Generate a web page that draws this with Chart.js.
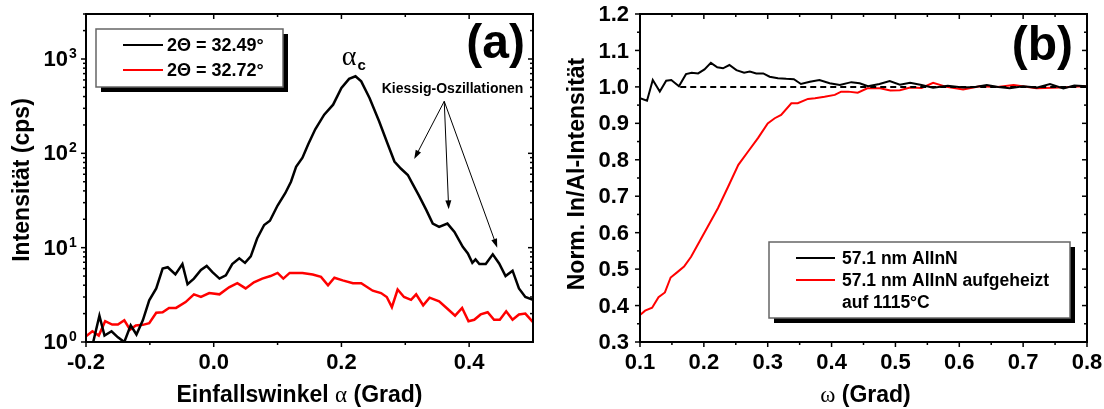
<!DOCTYPE html>
<html>
<head>
<meta charset="utf-8">
<script src="https://cdn.jsdelivr.net/npm/chart.js@4.4.1/dist/chart.umd.min.js"></script>
<style>
  body { margin: 0; background: #fff; }
  #wrap { position: relative; width: 1104px; height: 409px; }
  canvas { position: absolute; top: 0; }
</style>
</head>
<body>
<div id="wrap">
  <canvas id="chartA" width="552" height="409" style="left:0"></canvas>
  <canvas id="chartB" width="552" height="409" style="left:552px"></canvas>
</div>
<script>
const SCHRIFT = "'Liberation Sans', Arial, Helvetica, sans-serif";
const SERIF = "'Liberation Serif', 'Times New Roman', serif";

// (a) Intensitaet gegen Einfallswinkel
const winkelSchwarz = [-0.195,-0.189,-0.179,-0.171,-0.16,-0.15,-0.14,-0.13,-0.121,-0.111,-0.101,-0.09,-0.08,-0.072,-0.06,-0.049,-0.041,-0.031,-0.02,-0.011,-0.002,0.009,0.019,0.029,0.04,0.049,0.058,0.068,0.079,0.088,0.1,0.112,0.121,0.129,0.139,0.148,0.159,0.173,0.187,0.2,0.212,0.222,0.231,0.244,0.259,0.272,0.283,0.293,0.304,0.311,0.321,0.333,0.343,0.353,0.366,0.377,0.39,0.398,0.405,0.41,0.416,0.426,0.437,0.447,0.457,0.468,0.478,0.488,0.5];
const intensSchwarz = [0.8,0.98,1.9,1.17,1.3,1.12,1.0,1.5,1.2,1.7,2.77,3.7,6.0,6.2,5.2,6.7,4.1,4.7,5.8,6.4,5.5,4.7,5.1,6.7,7.7,6.9,8.1,12.5,17.4,19.3,28,37.8,50,72,90,125,180,257,328,493,616,656,580,386,219,128,82,69,59,48,36,25,18,16.6,18,14.7,10.2,8.7,6.9,7.5,6.7,6.7,8.5,6.8,5.0,5.7,3.7,3.0,2.8];
const winkelRot = [-0.2,-0.19,-0.18,-0.17,-0.159,-0.15,-0.14,-0.131,-0.122,-0.111,-0.101,-0.09,-0.08,-0.07,-0.059,-0.044,-0.031,-0.02,-0.007,0.009,0.024,0.037,0.05,0.063,0.076,0.089,0.1,0.109,0.119,0.139,0.155,0.168,0.179,0.189,0.202,0.218,0.231,0.249,0.262,0.271,0.279,0.288,0.298,0.309,0.317,0.328,0.338,0.353,0.366,0.378,0.389,0.399,0.408,0.418,0.429,0.439,0.448,0.458,0.468,0.478,0.488,0.5];
const intensRot = [1.15,1.3,1.17,1.66,1.53,1.53,1.7,1.35,1.5,1.52,1.58,2.04,2.07,2.3,2.3,2.65,3.2,3.0,3.3,3.2,3.8,4.2,3.7,4.3,4.7,5.0,5.4,4.7,5.4,5.4,5.2,4.9,4.0,4.8,4.5,4.2,4.2,3.5,3.3,3.0,2.34,3.6,3.0,2.8,3.2,2.45,2.95,2.7,2.25,1.9,2.3,1.66,1.72,1.96,2.07,1.72,1.72,2.12,1.72,1.96,2.0,1.62];
const legendeA = ['2Θ = 32.49°', '2Θ = 32.72°'];
const dekadenA = [1, 10, 100, 1000];
const xLabelsA = [-0.2, 0, 0.2, 0.4];

// (b) normierte In/Al-Intensitaet gegen omega
const omegaSchwarz = [0.1,0.111,0.12,0.131,0.141,0.149,0.161,0.172,0.181,0.191,0.201,0.211,0.221,0.23,0.24,0.251,0.263,0.272,0.282,0.293,0.303,0.316,0.329,0.341,0.352,0.366,0.381,0.397,0.413,0.431,0.444,0.457,0.475,0.491,0.507,0.523,0.541,0.559,0.582,0.606,0.625,0.643,0.661,0.679,0.7,0.721,0.742,0.763,0.78,0.8];
const normSchwarz = [0.969,0.962,1.019,0.987,1.017,1.019,1.002,1.035,1.039,1.037,1.048,1.066,1.054,1.051,1.06,1.046,1.039,1.042,1.037,1.037,1.028,1.024,1.022,1.021,1.008,1.014,1.019,1.01,1.005,1.013,1.01,1.002,1.008,1.016,1.006,1.011,1.005,0.998,1.003,0.998,1.0,1.005,1.0,0.996,1.002,0.998,1.008,0.996,1.004,1.002];
const omegaRot = [0.1,0.108,0.119,0.129,0.139,0.148,0.158,0.169,0.18,0.193,0.206,0.222,0.238,0.254,0.269,0.285,0.3,0.311,0.321,0.337,0.347,0.363,0.374,0.389,0.405,0.415,0.426,0.441,0.456,0.476,0.492,0.507,0.523,0.541,0.559,0.58,0.606,0.632,0.66,0.685,0.721,0.758,0.794,0.8];
const normRot = [0.374,0.386,0.394,0.423,0.436,0.477,0.491,0.507,0.534,0.575,0.616,0.667,0.726,0.786,0.822,0.86,0.9,0.914,0.923,0.955,0.955,0.967,0.969,0.973,0.978,0.987,0.987,0.984,0.996,0.996,0.99,0.991,0.998,0.997,1.011,1.0,0.993,1.002,1.0,1.005,0.996,0.998,1.002,1.001];
const legendeB = ['57.1 nm AlInN', '57.1 nm AlInN aufgeheizt', 'auf 1115°C'];
const linieEins = { von: 0.163, bis: 0.8, wert: 1.0 };

// Beschriftungen in Datenkoordinaten (a)
const alphaC = { x: 0.2125, y: 870 };
const kiessigText = { x: 0.374, y: 440 };
const kiessigStart = { x: 0.361, y: 356 };
const kiessigZiele = [{ x: 0.314, y: 87 }, { x: 0.368, y: 25.5 }, { x: 0.444, y: 10 }];

function punkte(xs, ys) {
  return xs.map((x, i) => ({ x: x, y: ys[i] }));
}

function bereich(a, b, s) {
  let r = [];
  for (let v = a; v <= b + 1e-9; v += s) r.push(Math.round(v * 1000) / 1000);
  return r;
}

function strich(ctx, x1, y1, x2, y2, w) {
  ctx.lineWidth = w;
  ctx.beginPath();
  ctx.moveTo(x1, y1);
  ctx.lineTo(x2, y2);
  ctx.stroke();
}

function mischText(ctx, teile, cx, y) {
  let breite = 0;
  teile.forEach(t => { ctx.font = t.f; breite += ctx.measureText(t.s).width; });
  let x = cx - breite / 2;
  ctx.textAlign = 'left';
  ctx.textBaseline = 'alphabetic';
  teile.forEach(t => { ctx.font = t.f; ctx.fillText(t.s, x, y); x += ctx.measureText(t.s).width; });
}

function pfeil(ctx, x1, y1, x2, y2) {
  const w = Math.atan2(y2 - y1, x2 - x1), l = 9, b = 3;
  strich(ctx, x1, y1, x2 - Math.cos(w) * l * 0.7, y2 - Math.sin(w) * l * 0.7, 1);
  ctx.beginPath();
  ctx.moveTo(x2, y2);
  ctx.lineTo(x2 - l * Math.cos(w) + b * Math.sin(w), y2 - l * Math.sin(w) - b * Math.cos(w));
  ctx.lineTo(x2 - l * Math.cos(w) - b * Math.sin(w), y2 - l * Math.sin(w) + b * Math.cos(w));
  ctx.closePath();
  ctx.fill();
}

const einStellen = v => (Math.abs(v) < 1e-9 ? 0 : v).toFixed(1);

// Rahmen, Ticks, Beschriftung, Titel, Legende
const rahmen = {
  id: 'rahmen',
  afterDraw(chart, args, o) {
    const ctx = chart.ctx, a = chart.chartArea;
    const sx = chart.scales.x, sy = chart.scales.y;
    ctx.save();
    ctx.strokeStyle = '#000';
    ctx.fillStyle = '#000';

    o.xMajor.forEach(v => {
      const p = sx.getPixelForValue(v);
      strich(ctx, p, a.bottom, p, a.bottom + 5, 1.5);
      strich(ctx, p, a.top, p, a.top + 5, 1.5);
    });
    o.xMinor.forEach(v => {
      const p = sx.getPixelForValue(v);
      strich(ctx, p, a.bottom, p, a.bottom + 3, 1.5);
      strich(ctx, p, a.top, p, a.top + 3, 1.5);
    });
    o.yMajor.forEach(v => {
      const p = sy.getPixelForValue(v);
      strich(ctx, a.left - 5, p, a.left, p, 1.5);
      strich(ctx, a.right - 5, p, a.right, p, 1.5);
    });
    o.yMinor.forEach(v => {
      const p = sy.getPixelForValue(v);
      strich(ctx, a.left - 3, p, a.left, p, 1.5);
      strich(ctx, a.right - 3, p, a.right, p, 1.5);
    });
    ctx.lineWidth = 2;
    ctx.strokeRect(a.left, a.top, a.right - a.left, a.bottom - a.top);

    // Tick-Beschriftung
    ctx.font = 'bold 22px ' + SCHRIFT;
    ctx.textBaseline = 'middle';
    ctx.textAlign = 'center';
    o.xLabels.forEach(v => ctx.fillText(einStellen(v), sx.getPixelForValue(v), a.bottom + 21));
    if (o.yLabels) {
      ctx.textAlign = 'right';
      o.yLabels.forEach(v => ctx.fillText(einStellen(v), a.left - 11, sy.getPixelForValue(v) + 1));
    }
    if (o.logLabels) {
      o.logLabels.forEach(v => {
        const p = sy.getPixelForValue(v);
        ctx.font = 'bold 22px ' + SCHRIFT;
        ctx.textAlign = 'right';
        ctx.textBaseline = 'middle';
        ctx.fillText('10', a.left - 18, p + 1);
        ctx.font = 'bold 14px ' + SCHRIFT;
        ctx.textAlign = 'left';
        ctx.fillText(String(Math.round(Math.log10(v))), a.left - 17, p - 5);
      });
    }

    // x-Titel
    const tb = 'bold 23px ' + SCHRIFT, ts = '23px ' + SERIF;
    mischText(ctx, o.xTitel.map(t => ({ s: t[0], f: t[1] ? ts : tb })), (a.left + a.right) / 2 + o.xTitelVersatz, a.bottom + 60);

    // y-Titel
    ctx.save();
    ctx.translate(o.yTitelX, (a.top + a.bottom) / 2 + o.yTitelVersatz);
    ctx.rotate(-Math.PI / 2);
    ctx.font = 'bold 23px ' + SCHRIFT;
    ctx.textAlign = 'center';
    ctx.textBaseline = 'middle';
    ctx.fillText(o.yTitel, 0, 0);
    ctx.restore();

    // Panel-Buchstabe
    ctx.font = 'bold 48px ' + SCHRIFT;
    ctx.textAlign = 'right';
    ctx.textBaseline = 'alphabetic';
    ctx.fillText(o.panel, a.right - o.panelRechts, a.top + o.panelOben);

    // Legende mit Schatten
    const L = o.legende;
    const lx = a.left + L.x, ly = a.top + L.y;
    ctx.fillRect(lx + 5, ly + 5, L.w, L.h);
    ctx.fillStyle = '#fff';
    ctx.fillRect(lx, ly, L.w, L.h);
    ctx.strokeStyle = '#666';
    ctx.lineWidth = 1.5;
    ctx.strokeRect(lx, ly, L.w, L.h);
    ctx.fillStyle = '#000';
    ctx.font = L.font;
    ctx.textAlign = 'left';
    ctx.textBaseline = 'middle';
    L.zeilen.forEach((z, i) => {
      const zy = ly + L.ersteZeile + i * L.abstand;
      if (z.farbe) {
        ctx.strokeStyle = z.farbe;
        strich(ctx, lx + L.linie[0], zy, lx + L.linie[1], zy, 2);
      }
      ctx.fillText(z.text, lx + L.textX, zy + 1);
    });

    if (o.extra) o.extra(ctx, sx, sy);
    ctx.restore();
  }
};

function zeichneAnnotationA(ctx, sx, sy) {
  ctx.fillStyle = '#000';
  ctx.strokeStyle = '#000';
  const ax = sx.getPixelForValue(alphaC.x), ay = sy.getPixelForValue(alphaC.y);
  ctx.font = '28px ' + SERIF;
  ctx.textAlign = 'right';
  ctx.textBaseline = 'alphabetic';
  ctx.fillText('α', ax + 7, ay);
  ctx.font = 'bold 15px ' + SCHRIFT;
  ctx.textAlign = 'left';
  ctx.fillText('c', ax + 8, ay + 5);

  ctx.font = 'bold 14px ' + SCHRIFT;
  ctx.textAlign = 'center';
  ctx.fillText('Kiessig-Oszillationen', sx.getPixelForValue(kiessigText.x), sy.getPixelForValue(kiessigText.y));
  const x0 = sx.getPixelForValue(kiessigStart.x), y0 = sy.getPixelForValue(kiessigStart.y);
  kiessigZiele.forEach(z => pfeil(ctx, x0, y0, sx.getPixelForValue(z.x), sy.getPixelForValue(z.y)));
}

let minorLog = [];
dekadenA.forEach(d => { for (let k = 2; k <= 9; k++) if (d * k <= 3000) minorLog.push(d * k); });

const stilleAchse = { grid: { display: false, drawTicks: false }, border: { display: false }, ticks: { display: false } };

new Chart(document.getElementById('chartA'), {
  type: 'line',
  data: {
    datasets: [
      { label: legendeA[0], data: punkte(winkelSchwarz, intensSchwarz), borderColor: '#000', borderWidth: 2.5, pointRadius: 0, order: 1 },
      { label: legendeA[1], data: punkte(winkelRot, intensRot), borderColor: '#ff0000', borderWidth: 2.5, pointRadius: 0, order: 2 }
    ]
  },
  options: {
    responsive: false,
    animation: false,
    layout: { padding: { top: 14, right: 19, left: 0, bottom: 0 } },
    plugins: {
      legend: { display: false },
      tooltip: { enabled: false },
      rahmen: {
        xMajor: [-0.2, 0, 0.2, 0.4], xMinor: [-0.1, 0.1, 0.3], xLabels: xLabelsA,
        yMajor: dekadenA, yMinor: minorLog, logLabels: dekadenA,
        xTitel: [['Einfallswinkel ', false], ['α', true], [' (Grad)', false]], xTitelVersatz: -10,
        yTitel: 'Intensität (cps)', yTitelX: 23, yTitelVersatz: 2,
        panel: '(a)', panelRechts: 8, panelOben: 44,
        legende: {
          x: 10, y: 15, w: 187, h: 58, ersteZeile: 16, abstand: 25, linie: [27, 67], textX: 71,
          font: 'bold 18px ' + SCHRIFT,
          zeilen: [{ text: legendeA[0], farbe: '#000' }, { text: legendeA[1], farbe: '#ff0000' }]
        },
        extra: zeichneAnnotationA
      }
    },
    scales: {
      x: Object.assign({ type: 'linear', min: -0.2, max: 0.5, afterFit: s => { s.height = 67; } }, stilleAchse),
      y: Object.assign({ type: 'logarithmic', min: 1, max: 3000, afterFit: s => { s.width = 86; } }, stilleAchse)
    }
  },
  plugins: [rahmen]
});

new Chart(document.getElementById('chartB'), {
  type: 'line',
  data: {
    datasets: [
      { label: 'eins', data: [{ x: linieEins.von, y: linieEins.wert }, { x: linieEins.bis, y: linieEins.wert }], borderColor: '#000', borderWidth: 2, borderDash: [6, 4], pointRadius: 0, order: 0 },
      { label: legendeB[0], data: punkte(omegaSchwarz, normSchwarz), borderColor: '#000', borderWidth: 2, pointRadius: 0, order: 1 },
      { label: legendeB[1], data: punkte(omegaRot, normRot), borderColor: '#ff0000', borderWidth: 2, pointRadius: 0, order: 2 }
    ]
  },
  options: {
    responsive: false,
    animation: false,
    layout: { padding: { top: 14, right: 17, left: 0, bottom: 0 } },
    plugins: {
      legend: { display: false },
      tooltip: { enabled: false },
      rahmen: {
        xMajor: bereich(0.1, 0.8, 0.1), xMinor: bereich(0.15, 0.75, 0.1), xLabels: bereich(0.1, 0.8, 0.1),
        yMajor: bereich(0.3, 1.2, 0.1), yMinor: bereich(0.35, 1.15, 0.1), yLabels: bereich(0.3, 1.2, 0.1),
        xTitel: [['ω', true], [' (Grad)', false]], xTitelVersatz: 2,
        yTitel: 'Norm. In/Al-Intensität', yTitelX: 26, yTitelVersatz: -4,
        panel: '(b)', panelRechts: 14, panelOben: 46,
        legende: {
          x: 129, y: 228, w: 301, h: 76, ersteZeile: 16, abstand: 22, linie: [27, 66], textX: 73,
          font: 'bold 17.5px ' + SCHRIFT,
          zeilen: [{ text: legendeB[0], farbe: '#000' }, { text: legendeB[1], farbe: '#ff0000' }, { text: legendeB[2], farbe: null }]
        }
      }
    },
    scales: {
      x: Object.assign({ type: 'linear', min: 0.1, max: 0.8, afterFit: s => { s.height = 67; } }, stilleAchse),
      y: Object.assign({ type: 'linear', min: 0.3, max: 1.2, afterFit: s => { s.width = 88; } }, stilleAchse)
    }
  },
  plugins: [rahmen]
});
</script>
</body>
</html>
